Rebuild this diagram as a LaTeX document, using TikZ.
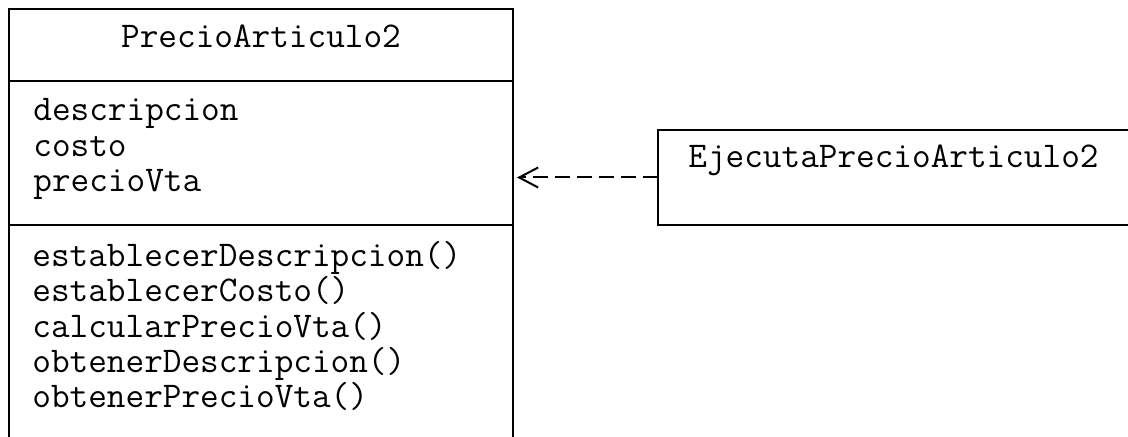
\documentclass[tikz,border=0pt]{standalone}
\usepackage{fontspec}
\usepackage{tikz}
\usetikzlibrary{arrows.meta,positioning}
\newcommand{\umlfont}{\ttfamily\fontsize{18.1}{17.6}\selectfont}
\tikzset{
  compbox/.style={draw,line width=1pt,minimum width=252pt,inner sep=0pt,
                  outer sep=0pt,anchor=north west},
  umltext/.style={font=\umlfont,inner sep=0pt,anchor=base west},
  dependencia/.style={dash pattern=on 7.5pt off 3.5pt,line width=1pt,
                      -{Straight Barb[length=9.5pt,width=10pt,line width=1pt]},
                      shorten >=2pt},
}
\begin{document}
\begin{tikzpicture}[x=1pt,y=1pt]
  \useasboundingbox (0,0) rectangle (564,-218.5);
  % clase PrecioArticulo2
  \node[compbox,minimum height=35.85pt] (cabecera) at (4.5,-4.5) {};
  \node[compbox,minimum height=72.15pt,below=0pt of cabecera] (atributos) {};
  \node[compbox,minimum height=140pt,below=0pt of atributos] (metodos) {};
  \node[umltext,anchor=base] (nombre) at (130.5,-24) {PrecioArticulo2};
  \foreach \t [count=\i] in {descripcion,costo,precioVta}
    \node[umltext] (attr\i) at (16.5,{-60.35-17.7*(\i-1)}) {\t};
  \foreach \t [count=\i] in {establecerDescripcion(),establecerCosto(),
      calcularPrecioVta(),obtenerDescripcion(),obtenerPrecioVta()}
    \node[umltext] (met\i) at (16,{-133.35-17.65*(\i-1)}) {\t};
  % clase EjecutaPrecioArticulo2
  \node[compbox,minimum width=300pt,minimum height=47.5pt] (ejecuta) at (329,-65) {};
  \node[umltext] (ejecutaNombre) at (344,-84) {EjecutaPrecioArticulo2};
  \draw[dependencia] (ejecuta.west) -- (ejecuta.west -| atributos.east);
\end{tikzpicture}
\end{document}
